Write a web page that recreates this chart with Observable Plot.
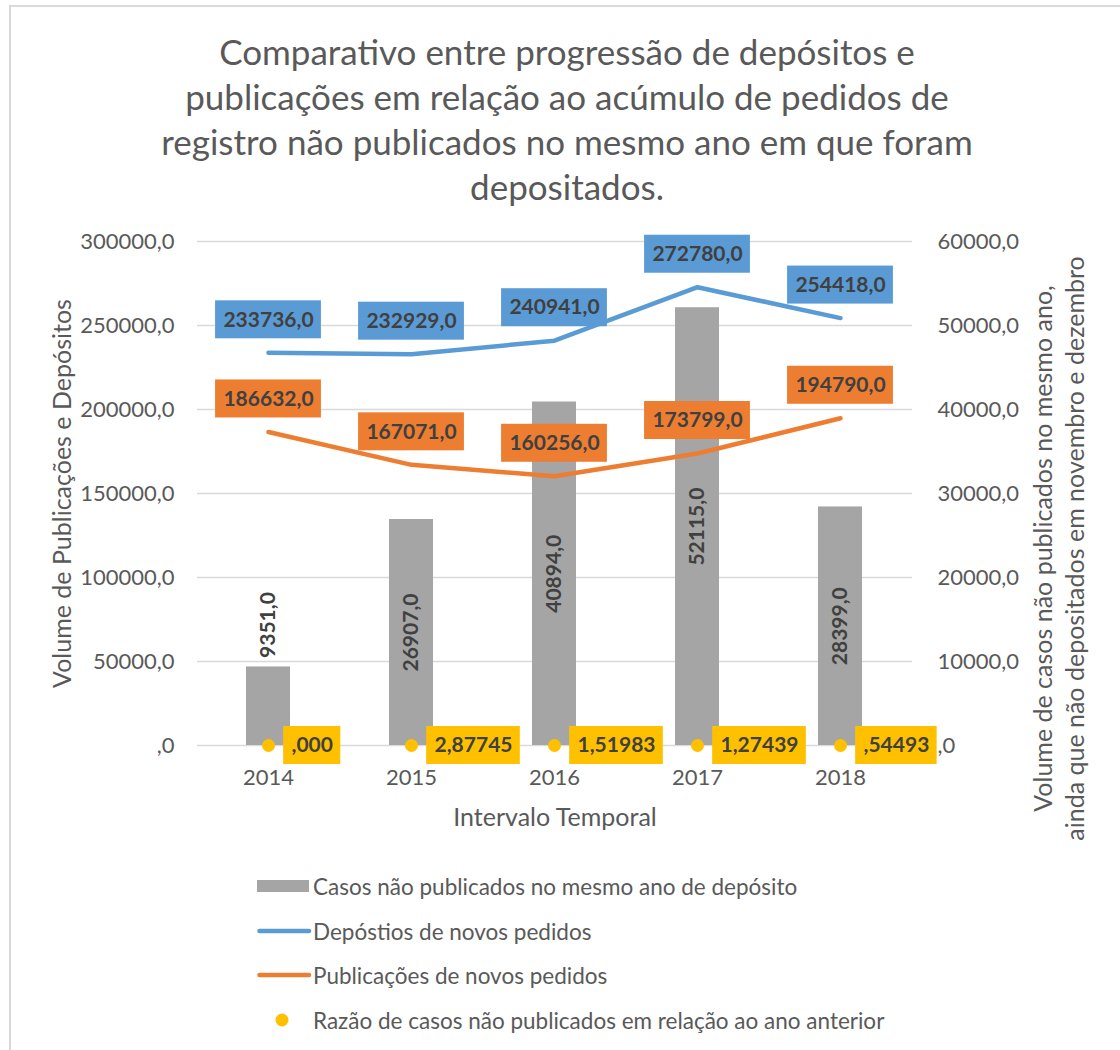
<!DOCTYPE html>
<html>
<head>
<meta charset="utf-8">
<script src="https://cdn.jsdelivr.net/npm/d3@7"></script>
<script src="https://cdn.jsdelivr.net/npm/@observablehq/plot@0.6"></script>
<style>
html,body{margin:0;padding:0;background:#fff;}
#root{position:relative;width:1120px;height:1050px;overflow:hidden;font-family:Lato,"Open Sans",sans-serif;color:#595959;}
#frame{position:absolute;left:9px;top:5px;width:1200px;height:1100px;border-left:2px solid #d9d9d9;border-top:2px solid #d9d9d9;box-sizing:border-box;}
#title{position:absolute;left:0;top:29px;width:1134px;text-align:center;font-size:35px;line-height:45px;}
#chart{position:absolute;left:0;top:220px;}
.leg{position:absolute;left:257px;height:44px;display:flex;align-items:center;font-size:22.5px;white-space:nowrap;}
.leg svg{flex:none;}
</style>
</head>
<body>
<div id="root">
  <div id="frame"></div>
  <div id="title"></div>
  <div id="chart"></div>
  <div id="legend"></div>
</div>
<script>
// ---------- data ----------
const years = ["2014", "2015", "2016", "2017", "2018"];
const casosNaoPublicados = [9351, 26907, 40894, 52115, 28399];
const depositos = [233736, 232929, 240941, 272780, 254418];
const publicacoes = [186632, 167071, 160256, 173799, 194790];
const razao = [0, 2.87745, 1.51983, 1.27439, 0.54493];
const leftTicks = [0, 50000, 100000, 150000, 200000, 250000, 300000];
const leftMax = 300000;
const rightMax = 60000;

const titleLines = [
  "Comparativo entre progressão de depósitos e",
  "publicações em relação ao acúmulo de pedidos de",
  "registro não publicados no mesmo ano em que foram",
  "depositados."
];
const xTitle = "Intervalo Temporal";
const yLeftTitle = "Volume de Publicações e Depósitos";
const yRightTitle = ["Volume de casos não publicados no mesmo ano,", "ainda que não depositados em novembro e dezembro"];
const legendLabels = [
  "Casos não publicados no mesmo ano de depósito",
  "Depóstios de novos pedidos",
  "Publicações de novos pedidos",
  "Razão de casos não publicados em relação ao ano anterior"
];

// ---------- styling ----------
const GRAY = "#A5A5A5", BLUE = "#5B9BD5", ORANGE = "#ED7D31", YELLOW = "#FFC000";
const LABEL = "#404040";
const k = leftMax / rightMax; // secondary axis factor

const rows = years.map((year, i) => ({
  year, casos: casosNaoPublicados[i], dep: depositos[i], pub: publicacoes[i], razao: razao[i]
}));

const fmt1 = v => (v === 0 ? "" : Math.round(v).toString()) + ",0";
const fmtR = v => v === 0 ? ",000" : v.toFixed(5).replace(/^0/, "").replace(".", ",");

const ctx = document.createElement("canvas").getContext("2d");
const labelFontSize = 21;
const tickFontSize = 22;
const titleFontSize = 25;
function textW(s) { ctx.font = `bold ${labelFontSize}px Lato`; return ctx.measureText(s).width; }

// layout
const W = 1120, H = 610, mL = 197, mR = 208, mT = 21, mB = 85;
const pIn = 0.69, pOut = 0.345;
const step = (W - mL - mR) / (years.length - pIn + 2 * pOut);
const bw = step * (1 - pIn);
const pad = 8;

// title
document.getElementById("title").innerHTML = titleLines.join("<br>");

// label boxes for lines
function lineLabelMarks(key, color) {
  const boxes = rows.map(r => {
    const w = textW(fmt1(r[key])) + 2 * pad;
    const inset = (bw - w) / 2;
    return Plot.barY([r], {x: "year", y1: key, y2: key, fill: color,
      insetLeft: inset, insetRight: inset, insetTop: -52, insetBottom: 14});
  });
  const txt = Plot.text(rows, {x: "year", y: key, text: r => fmt1(r[key]), dy: -33,
    fill: LABEL, fontWeight: "bold", fontSize: labelFontSize, lineAnchor: "middle"});
  return [...boxes, txt];
}

const ratioBoxes = rows.map(r => {
  const w = textW(fmtR(r.razao)) + 2 * pad;
  const left = bw / 2 + 15;
  return Plot.barY([r], {x: "year", y1: d => d.razao * k, y2: d => d.razao * k, fill: YELLOW,
    insetLeft: left, insetRight: bw - left - w, insetTop: -19, insetBottom: -19});
});

const barLabelFits = r => (r.casos * k / leftMax) * (H - mT - mB) > textW(fmt1(r.casos)) + 20;

const chart = Plot.plot({
  width: W, height: H,
  marginLeft: mL, marginRight: mR, marginTop: mT, marginBottom: mB,
  style: {fontFamily: "Lato, 'Open Sans', sans-serif", fontSize: tickFontSize + "px", color: "#595959", background: "transparent", overflow: "visible"},
  x: {domain: years, paddingInner: pIn, paddingOuter: pOut, axis: null},
  y: {domain: [0, leftMax], axis: null},
  marks: [
    Plot.ruleY(leftTicks, {stroke: "#d9d9d9", strokeWidth: 1.5}),
    Plot.axisY(leftTicks, {anchor: "left", tickSize: 0, tickPadding: 23, tickFormat: fmt1, label: null, fontSize: tickFontSize}),
    Plot.axisY(leftTicks, {anchor: "right", tickSize: 0, tickPadding: 25, tickFormat: d => fmt1(d / k), label: null, fontSize: tickFontSize}),
    Plot.axisX({tickSize: 0, tickPadding: 24, label: null, fontSize: tickFontSize}),
    Plot.barY(rows, {x: "year", y: d => d.casos * k, fill: GRAY}),
    Plot.lineY(rows, {x: "year", y: "dep", stroke: BLUE, strokeWidth: 4.5, strokeLinecap: "round", strokeLinejoin: "round"}),
    Plot.lineY(rows, {x: "year", y: "pub", stroke: ORANGE, strokeWidth: 4.5, strokeLinecap: "round", strokeLinejoin: "round"}),
    Plot.dot(rows, {x: "year", y: d => d.razao * k, r: 6.5, fill: YELLOW}),
    Plot.text(rows.filter(barLabelFits), {x: "year", y: d => d.casos * k / 2, text: d => fmt1(d.casos), rotate: -90,
      fill: LABEL, fontWeight: "bold", fontSize: labelFontSize, lineAnchor: "middle"}),
    Plot.text(rows.filter(r => !barLabelFits(r)), {x: "year", y: d => d.casos * k, text: d => fmt1(d.casos), rotate: -90,
      textAnchor: "start", dy: -9, fill: LABEL, fontWeight: "bold", fontSize: labelFontSize, lineAnchor: "middle"}),
    ...lineLabelMarks("dep", BLUE),
    ...lineLabelMarks("pub", ORANGE),
    ...ratioBoxes,
    Plot.text(rows, {x: "year", y: d => d.razao * k, text: d => fmtR(d.razao), dx: 15 + pad, textAnchor: "start",
      fill: LABEL, fontWeight: "bold", fontSize: labelFontSize, lineAnchor: "middle"}),
    Plot.text([xTitle], {frameAnchor: "bottom", dy: 72, textAnchor: "middle", lineAnchor: "middle", fill: "#595959", fontSize: titleFontSize}),
    Plot.text([yLeftTitle], {frameAnchor: "left", dx: -135, rotate: -90, textAnchor: "middle", lineAnchor: "middle", fill: "#595959", fontSize: titleFontSize}),
    Plot.text([yRightTitle.join("\n")], {frameAnchor: "right", dx: 145, dy: 55, rotate: -90, textAnchor: "middle", lineAnchor: "middle", lineHeight: 1.3, fill: "#595959", fontSize: titleFontSize})
  ]
});
document.getElementById("chart").appendChild(chart);

// legend
const legendCenters = [886, 931, 975, 1020];
const swatches = [
  `<rect x="0" y="4" width="52" height="12" fill="${GRAY}"/>`,
  `<line x1="2.5" y1="10" x2="52" y2="10" stroke="${BLUE}" stroke-width="4.5" stroke-linecap="round"/>`,
  `<line x1="2.5" y1="10" x2="52" y2="10" stroke="${ORANGE}" stroke-width="4.5" stroke-linecap="round"/>`,
  `<circle cx="25" cy="10" r="6.5" fill="${YELLOW}"/>`
];
const legend = document.getElementById("legend");
legendLabels.forEach((lab, i) => {
  const d = document.createElement("div");
  d.className = "leg";
  d.style.top = (legendCenters[i] - 22) + "px";
  d.innerHTML = `<svg width="56" height="20">${swatches[i]}</svg><span>${lab}</span>`;
  legend.appendChild(d);
});
</script>
</body>
</html>
